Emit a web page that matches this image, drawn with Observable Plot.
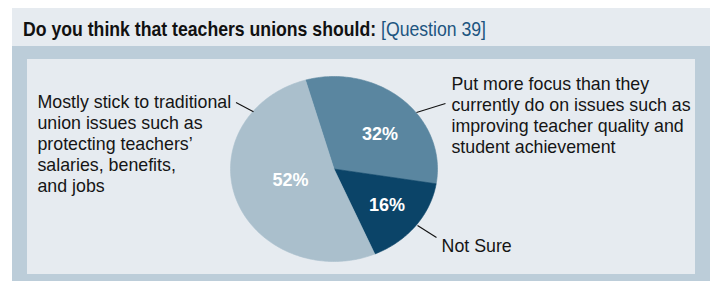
<!DOCTYPE html>
<html>
<head>
<meta charset="utf-8">
<script src="https://cdn.jsdelivr.net/npm/d3@7"></script>
<script src="https://cdn.jsdelivr.net/npm/@observablehq/plot@0.6"></script>
<style>
  html, body { margin: 0; padding: 0; background: #ffffff; }
  #wrap { position: relative; width: 711px; height: 281px; overflow: hidden; font-family: "Liberation Sans", Arial, Helvetica, sans-serif; }
  #band { position: absolute; left: 12px; top: 8px; width: 698px; height: 38px; background: #e6ebf0; }
  #frame { position: absolute; left: 12px; top: 46px; width: 698px; height: 235px; background: #bccdd9; }
  #inner { position: absolute; left: 27px; top: 59px; width: 668px; height: 215px; background: #e6ebf0; }
  #title { position: absolute; left: 23px; top: 17.5px; font-family: "Liberation Sans", Arial, sans-serif; font-size: 21px; line-height: 21px; white-space: nowrap; color: #111; transform-origin: 0 0; }
  #title b { font-weight: 700; }
  #title span { color: #1d5580; font-weight: 400; }
  #chart { position: absolute; left: 0; top: 0; }
</style>
</head>
<body>
<div id="wrap">
  <div id="band"></div>
  <div id="frame"></div>
  <div id="inner"></div>
  <div id="title"><b>Do you think that teachers unions should:</b> <span>[Question 39]</span></div>
  <div id="chart"></div>
</div>
<script>
// ---- data ----
const categories = [
  "Put more focus than they\ncurrently do on issues such as\nimproving teacher quality and\nstudent achievement",
  "Not Sure",
  "Mostly stick to traditional\nunion issues such as\nprotecting teachers’\nsalaries, benefits,\nand jobs"
];
const shares = [32, 16, 52];
const shareLabels = ["32%", "16%", "52%"];

// ---- styles / layout (not data) ----
const sliceColors = ["#5a86a0", "#0b4468", "#aabfcc"];
const startDeg = -16;
const pctPos = [{a: 50, r: 0.58}, {a: 127.6, r: 0.647}, {a: 254, r: 0.437}];
const leaders = [
  {x1: 0.797, y1: 0.611, x2: 1.077, y2: 0.708},
  {x1: 0.807, y1: -0.611, x2: 0.99, y2: -0.74},
  {x1: -0.778, y1: 0.62, x2: -0.947, y2: 0.719}
];
const labelPos = [
  {x: 1.135, y: 1.011},
  {x: 1.039, y: -0.735},
  {x: -2.865, y: 0.816}
];

// condensed title: squeeze to the reference width
(function () {
  const t = document.getElementById("title");
  const w = t.getBoundingClientRect().width;
  t.style.transform = "scaleX(" + (463 / w) + ")";
})();

const rad = Math.PI / 180;
const pie = d3.pie().sort(null).value(d => d)
  .startAngle(startDeg * rad).endAngle(startDeg * rad + 2 * Math.PI);
const arcs = pie(shares);

const wedgePts = [];
arcs.forEach((a, i) => {
  const key = "s" + i;
  wedgePts.push({key, color: sliceColors[i], x: 0, y: 0});
  const n = Math.max(2, Math.ceil((a.endAngle - a.startAngle) / rad));
  for (let k = 0; k <= n; k++) {
    const t = a.startAngle + (a.endAngle - a.startAngle) * k / n;
    wedgePts.push({key, color: sliceColors[i], x: Math.sin(t), y: Math.cos(t)});
  }
  wedgePts.push({key, color: sliceColors[i], x: 0, y: 0});
});

const pctData = shareLabels.map((t, i) => ({
  text: t,
  x: pctPos[i].r * Math.sin(pctPos[i].a * rad),
  y: pctPos[i].r * Math.cos(pctPos[i].a * rad)
}));
const labelData = categories.map((t, i) => ({text: t, x: labelPos[i].x, y: labelPos[i].y}));

const plot = Plot.plot({
  width: 711,
  height: 281,
  style: {background: "transparent", overflow: "visible"},
  x: {domain: [-1, 1], range: [230, 437], axis: null},
  y: {domain: [-1, 1], range: [261, 76], axis: null},
  marks: [
    Plot.line(wedgePts, {x: "x", y: "y", z: "key", fill: "color", stroke: "color", strokeWidth: 0.6, curve: "linear"}),
    Plot.text(pctData, {x: "x", y: "y", text: "text", fill: "white", fontWeight: "bold", fontSize: 18,
      fontFamily: "Liberation Sans, Arial, sans-serif", lineAnchor: "middle", textAnchor: "middle"}),
    Plot.link(leaders, {x1: "x1", y1: "y1", x2: "x2", y2: "y2", stroke: "#111", strokeWidth: 1.1}),
    Plot.text(labelData, {x: "x", y: "y", text: "text", fill: "#151515", fontSize: 17.8, lineHeight: 1.17,
      fontFamily: "Liberation Sans, Arial, sans-serif", textAnchor: "start", lineAnchor: "top"})
  ]
});
document.getElementById("chart").appendChild(plot);
</script>
</body>
</html>
